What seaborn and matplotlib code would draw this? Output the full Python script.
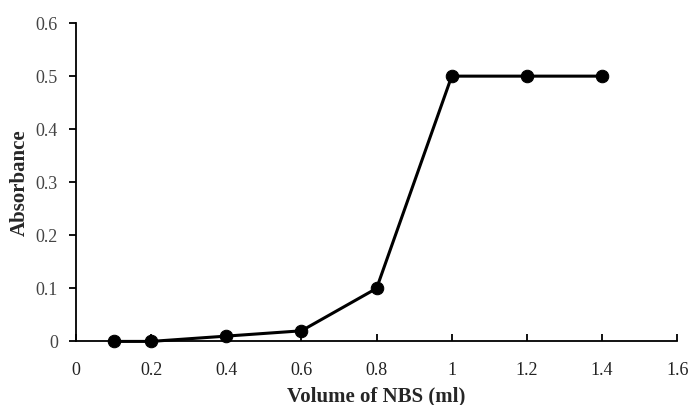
import matplotlib
matplotlib.use("Agg")
import matplotlib.pyplot as plt
import seaborn as sns
import pandas as pd

volume = [0.1, 0.2, 0.4, 0.6, 0.8, 1.0, 1.2, 1.4]
absorbance = [0.0, 0.0, 0.01, 0.02, 0.1, 0.5, 0.5, 0.5]
x_ticks = [0, 0.2, 0.4, 0.6, 0.8, 1, 1.2, 1.4, 1.6]
y_ticks = [0, 0.1, 0.2, 0.3, 0.4, 0.5, 0.6]

df = pd.DataFrame({"Volume": volume, "Absorbance": absorbance})

sns.set_style("white")
fig = plt.figure(figsize=(6.91, 4.05), dpi=100)
ax = fig.add_axes([0.110, 0.157, 0.870, 0.786])

sns.lineplot(data=df, x="Volume", y="Absorbance", ax=ax, color="black",
             linewidth=2.2, marker="o", markersize=9, markeredgecolor="black",
             markerfacecolor="black", clip_on=False, zorder=5)

ax.set_xlim(0, 1.6)
ax.set_ylim(0, 0.6)
ax.set_xticks(x_ticks)
ax.set_yticks(y_ticks)
ax.set_xticklabels([f"{v:g}" for v in x_ticks], family="Liberation Serif", fontsize=13, color="#222222")
ax.set_yticklabels([f"{v:g}" for v in y_ticks], family="Liberation Serif", fontsize=13, color="#444444")

for s in ["top", "right"]:
    ax.spines[s].set_visible(False)
for s in ["left", "bottom"]:
    ax.spines[s].set_color("black")
    ax.spines[s].set_linewidth(1.3)

ax.tick_params(axis="x", bottom=True, direction="in", length=5, width=1.3, color="black", pad=15)
ax.tick_params(axis="y", left=True, direction="out", length=5, width=1.3, color="black", pad=8)

ax.set_xlabel("Volume of NBS (ml)", family="Liberation Serif", fontweight="bold", fontsize=15, labelpad=5)
ax.set_ylabel("Absorbance", family="Liberation Serif", fontweight="bold", fontsize=15, labelpad=4)

fig.savefig("out.png", dpi=100, facecolor="white")
